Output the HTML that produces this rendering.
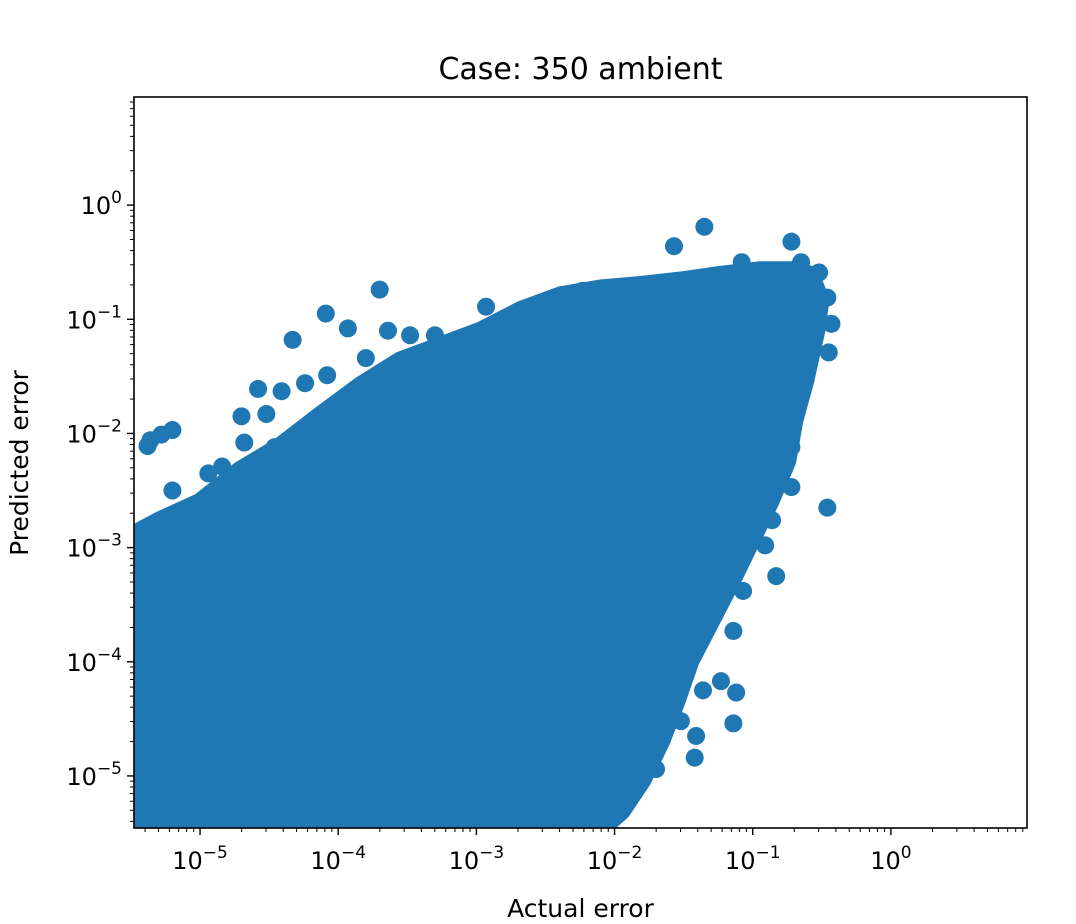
<!DOCTYPE html>
<html><head><meta charset="utf-8"><style>
body{margin:0;background:#fff;}
svg{display:block;font-family:"DejaVu Sans","Liberation Sans",sans-serif;}
</style></head><body>
<svg id="chart" width="1076" height="924" viewBox="0 0 1076 924"></svg>
<script>
// data (log10 values)
const blobLogX=[-5.43,-5.43,-5.29,-5.00,-4.71,-4.42,-4.13,-3.84,-3.55,-3.26,-2.97,-2.68,-2.39,-2.10,-1.81,-1.52,-1.23,-0.94,-0.72,-0.58,-0.51,-0.54,-0.62,-0.70,-0.75,-0.87,-1.01,-1.15,-1.30,-1.45,-1.55,-1.66,-1.80,-1.95,-2.10];
const blobLogY=[-5.47,-2.85,-2.76,-2.60,-2.32,-2.11,-1.84,-1.58,-1.36,-1.23,-1.10,-0.92,-0.79,-0.73,-0.70,-0.66,-0.61,-0.57,-0.57,-0.61,-0.83,-1.10,-1.54,-1.89,-2.24,-2.59,-2.94,-3.29,-3.64,-3.99,-4.34,-4.69,-5.04,-5.31,-5.47];
const ptLogX=[-5.36,-5.28,-5.20,-5.38,-5.20,-4.94,-4.84,-4.70,-4.68,-4.58,-4.52,-4.46,-4.33,-4.41,-4.24,-4.09,-4.08,-3.93,-3.70,-3.80,-3.64,-3.48,-3.30,-2.93,-2.72,-2.48,-2.23,-1.57,-1.35,-1.08,-0.72,-0.65,-0.52,-0.46,-0.43,-0.45,-0.72,-0.72,-0.46,-0.83,-0.86,-0.91,-1.14,-1.12,-1.14,-1.36,-1.41,-1.42,-1.52,-1.70,-1.88,-2.01,-2.24,-2.43,-2.61,-2.75,-3.04,-3.26,-3.55,-3.70,-3.91,-4.13,-4.35,-4.57,-4.78,-5.00,-5.29,-5.40,-1.07,-1.23];
const ptLogY=[-2.06,-2.01,-1.97,-2.11,-2.50,-2.35,-2.29,-1.85,-2.08,-1.61,-1.83,-2.12,-1.18,-1.63,-1.56,-0.95,-1.49,-1.08,-0.74,-1.34,-1.10,-1.14,-1.14,-0.89,-0.96,-0.88,-0.75,-0.36,-0.19,-0.50,-0.32,-0.50,-0.59,-0.81,-1.04,-1.29,-2.12,-2.47,-2.65,-3.25,-2.76,-2.98,-3.73,-4.27,-4.54,-4.25,-4.65,-4.84,-4.52,-4.94,-5.11,-5.15,-5.39,-5.45,-5.26,-5.32,-5.32,-5.35,-5.35,-5.27,-5.38,-5.39,-5.38,-5.35,-5.32,-5.38,-5.32,-5.13,-3.38,-4.17];
const xTickExp=[-5,-4,-3,-2,-1,0];
const yTickExp=[0,-1,-2,-3,-4,-5];

const L=134,R=1027,T=97,B=828;
const xMin=-5.478,xMax=0.985,yMin=-5.456,yMax=0.947;
const sx=v=>L+(v-xMin)/(xMax-xMin)*(R-L);
const sy=v=>B-(v-yMin)/(yMax-yMin)*(B-T);
const NS='http://www.w3.org/2000/svg';
const svg=document.getElementById('chart');
function mk(tag,attrs,parent){const e=document.createElementNS(NS,tag);for(const k in attrs)e.setAttribute(k,attrs[k]);(parent||svg).appendChild(e);return e;}

const defs=mk('defs',{});
const cp=mk('clipPath',{id:'clip'},defs);
mk('rect',{x:L,y:T,width:R-L,height:B-T},cp);
const g=mk('g',{'clip-path':'url(#clip)'});


const col='#1f77b4';
let d='';
blobLogX.forEach((x,i)=>{d+=(i?'L':'M')+sx(x).toFixed(1)+' '+sy(blobLogY[i]).toFixed(1);});
const blob=mk('path',{d:d+'Z',fill:col,stroke:col,'stroke-width':18,'stroke-linejoin':'round'},g);


ptLogX.forEach((x,i)=>{
  const c=mk('circle',{cx:sx(x),cy:sy(ptLogY[i]),r:9,fill:col},g);
  
  
});

const frame=mk('rect',{x:L,y:T,width:R-L,height:B-T,fill:'none',stroke:'#000','stroke-width':1.6});



for(let e=-6;e<=1;e++){
  for(let m=1;m<10;m++){
    const lv=e+Math.log10(m);
    if(lv>=xMin&&lv<=xMax){const x=sx(lv);mk('line',{x1:x,x2:x,y1:B,y2:B+(m==1?7:4),stroke:'#000','stroke-width':m==1?1.4:1});}
    if(lv>=yMin&&lv<=yMax){const y=sy(lv);mk('line',{x1:L,x2:L-(m==1?7:4),y1:y,y2:y,stroke:'#000','stroke-width':m==1?1.4:1});}
  }
}
xTickExp.forEach(e=>{
  const t=mk('text',{x:sx(e),y:B+41,'text-anchor':'middle','font-size':24,fill:'#000'});
  
  
  t.innerHTML='10<tspan dy="-11" font-size="17">'+(e<0?'\u2212'+(-e):e)+'</tspan>';
});
yTickExp.forEach(e=>{
  const t=mk('text',{x:L-12,y:sy(e)+9,'text-anchor':'end','font-size':24,fill:'#000'});
  
  
  t.innerHTML='10<tspan dy="-11" font-size="17">'+(e<0?'\u2212'+(-e):e)+'</tspan>';
});
const title=mk('text',{x:(L+R)/2,y:79,'text-anchor':'middle','font-size':30,fill:'#000'});
title.textContent='Case: 350 ambient';


const xl=mk('text',{x:(L+R)/2,y:917,'text-anchor':'middle','font-size':25,fill:'#000'});
xl.textContent='Actual error';


const yl=mk('text',{x:0,y:0,'text-anchor':'middle','font-size':25,fill:'#000',transform:'translate(28,463) rotate(-90)'});
yl.textContent='Predicted error';


</script>
</body></html>
